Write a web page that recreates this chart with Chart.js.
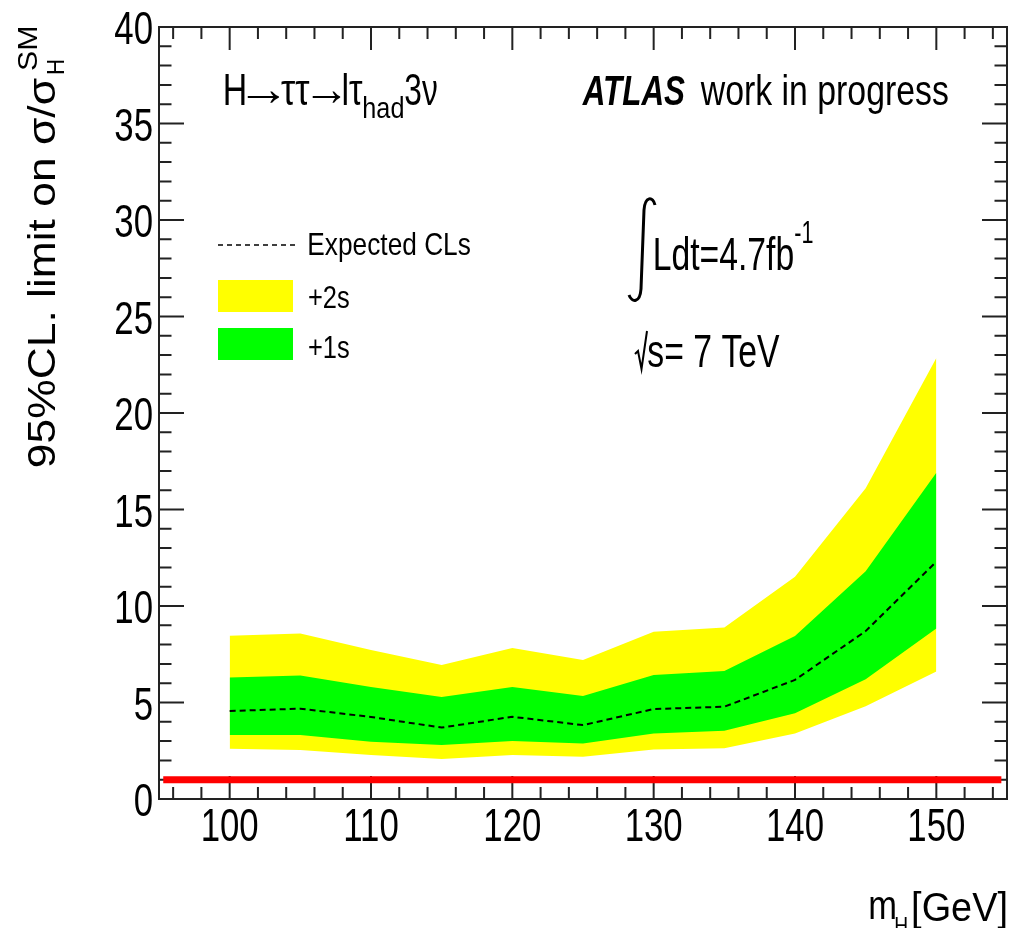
<!DOCTYPE html>
<html>
<head>
<meta charset="utf-8">
<title>H to tau tau expected limit</title>
<script src="https://cdn.jsdelivr.net/npm/chart.js@4.4.0/dist/chart.umd.min.js"></script>
<style>
  html, body { margin: 0; padding: 0; background: #fff; }
  canvas { display: block; }
</style>
</head>
<body>
<canvas id="limitChart" width="1011" height="928"></canvas>
<script>
// Higgs mass points and expected 95% CL limits (in units of the SM cross section)
const massPoints = [100, 105, 110, 115, 120, 125, 130, 135, 140, 145, 150];
const expectedCLs = [4.56, 4.68, 4.25, 3.70, 4.26, 3.83, 4.66, 4.78, 6.17, 8.70, 12.30];
const plus1sUp = [6.30, 6.40, 5.80, 5.28, 5.80, 5.34, 6.42, 6.63, 8.45, 11.80, 16.90];
const plus1sDown = [3.32, 3.32, 2.97, 2.80, 3.00, 2.88, 3.40, 3.54, 4.44, 6.20, 8.84];
const plus2sUp = [8.46, 8.57, 7.72, 6.94, 7.82, 7.20, 8.67, 8.88, 11.52, 16.10, 22.85];
const plus2sDown = [2.60, 2.54, 2.28, 2.07, 2.28, 2.19, 2.57, 2.63, 3.40, 4.80, 6.60];

// SM reference line at sigma/sigma_SM = 1
const smLineX = [95.3, 154.6];
const smLineY = [1, 1];

const xMajorTicks = [100, 110, 120, 130, 140, 150];
const yMajorTicks = [0, 5, 10, 15, 20, 25, 30, 35, 40];
const xMinorStep = 2;
const yMinorStep = 1;

const FONT = '"Liberation Sans", Arial, Helvetica, sans-serif';

const toPoints = (xs, ys) => xs.map((x, i) => ({ x, y: ys[i] }));

// text squeezed horizontally so its ink spans [left, right]
function fitText(ctx, str, left, right, baseline, size, style) {
    ctx.save();
    ctx.font = `${style || ''} ${size}px ${FONT}`;
    ctx.textAlign = 'left';
    ctx.textBaseline = 'alphabetic';
    const m = ctx.measureText(str);
    const ink = m.actualBoundingBoxLeft + m.actualBoundingBoxRight;
    ctx.translate(left, baseline);
    ctx.scale((right - left) / ink, 1);
    ctx.fillText(str, m.actualBoundingBoxLeft, 0);
    ctx.restore();
}

// same, but reading bottom-to-top
function fitTextUp(ctx, str, bottom, top, baselineX, size, style) {
    ctx.save();
    ctx.translate(baselineX, bottom);
    ctx.rotate(-Math.PI / 2);
    fitText(ctx, str, 0, bottom - top, 0, size, style);
    ctx.restore();
}

function narrowText(ctx, str, x, y, size, sx, align) {
    ctx.save();
    ctx.font = `${size}px ${FONT}`;
    ctx.textAlign = align || 'left';
    ctx.textBaseline = 'alphabetic';
    ctx.translate(x, y);
    ctx.scale(sx, 1);
    ctx.fillText(str, 0, 0);
    ctx.restore();
}

// ROOT-style frame: ticks pointing inwards on all four sides
const framePlugin = {
    id: 'frame',
    beforeDatasetsDraw(chart) {
        const { ctx, chartArea: a, scales: { x, y } } = chart;
        ctx.save();
        ctx.strokeStyle = '#222';
        ctx.lineWidth = 2;
        ctx.strokeRect(a.left, a.top, a.right - a.left, a.bottom - a.top);

        ctx.beginPath();
        for (let v = x.min + 1; v < x.max; v += xMinorStep) {
            const px = x.getPixelForValue(v);
            const len = xMajorTicks.includes(v) ? 23 : 12;
            ctx.moveTo(px, a.bottom); ctx.lineTo(px, a.bottom - len);
            ctx.moveTo(px, a.top); ctx.lineTo(px, a.top + len);
        }
        for (let v = y.min + yMinorStep; v < y.max; v += yMinorStep) {
            const py = y.getPixelForValue(v);
            const len = yMajorTicks.includes(v) ? 25 : 12.5;
            ctx.moveTo(a.left, py); ctx.lineTo(a.left + len, py);
            ctx.moveTo(a.right, py); ctx.lineTo(a.right - len, py);
        }
        const py40 = y.getPixelForValue(40);
        ctx.moveTo(a.left, py40); ctx.lineTo(a.left + 25, py40);
        ctx.moveTo(a.right, py40); ctx.lineTo(a.right - 25, py40);
        ctx.stroke();
        ctx.restore();
    },
    afterDraw(chart) {
        const { ctx, scales: { x, y } } = chart;
        ctx.save();
        ctx.fillStyle = '#000';

        // tick labels
        xMajorTicks.forEach(v => narrowText(ctx, String(v), x.getPixelForValue(v), 841, 47, 0.74, 'center'));
        yMajorTicks.forEach(v => narrowText(ctx, String(v), 153, y.getPixelForValue(v) + 17, 47, 0.74, 'right'));

        // axis titles
        fitTextUp(ctx, '95%CL. limit on σ/σ', 467, 78, 55, 39);
        fitTextUp(ctx, 'H', 74, 60, 64, 24);
        fitTextUp(ctx, 'SM', 70, 27, 37, 28);
        fitText(ctx, 'm', 870, 895, 919, 40);
        fitText(ctx, 'H', 895, 907, 934, 24);
        fitText(ctx, '[GeV]', 913, 1006, 921, 40);

        // channel label
        fitText(ctx, 'H', 225, 245, 105, 44);
        fitText(ctx, '→', 247, 280, 105, 48);
        fitText(ctx, 'ττ', 281, 310, 105, 44);
        fitText(ctx, '→', 312, 341, 105, 48);
        fitText(ctx, 'lτ', 343, 363, 105, 44);
        fitText(ctx, 'had', 364, 403, 118, 30);
        fitText(ctx, '3ν', 405, 437, 105, 44);

        fitText(ctx, 'ATLAS', 582, 685, 105, 42, 'italic bold');
        fitText(ctx, 'work in progress', 700, 948, 105, 42);

        // luminosity and energy
        ctx.strokeStyle = '#000';
        ctx.lineWidth = 3;
        ctx.beginPath();
        ctx.moveTo(655, 205);
        ctx.bezierCurveTo(653, 196, 645, 196, 644, 210);
        ctx.lineTo(641, 289);
        ctx.bezierCurveTo(640, 303, 632, 303, 629, 295);
        ctx.stroke();
        fitText(ctx, 'Ldt=4.7fb', 655, 793, 270, 46);
        fitText(ctx, '-1', 795, 813, 243, 32);

        ctx.lineWidth = 2;
        ctx.beginPath();
        ctx.moveTo(635, 354);
        ctx.lineTo(638, 351);
        ctx.lineTo(641.5, 369);
        ctx.lineTo(647, 331);
        ctx.stroke();
        fitText(ctx, 's= 7 TeV', 648, 780, 367, 47);

        // legend
        ctx.lineWidth = 1.5;
        ctx.setLineDash([5, 4]);
        ctx.beginPath();
        ctx.moveTo(218, 245);
        ctx.lineTo(297, 245);
        ctx.stroke();
        ctx.setLineDash([]);
        ctx.fillStyle = '#ffff00';
        ctx.fillRect(218, 280, 75, 32);
        ctx.fillStyle = '#00ff00';
        ctx.fillRect(218, 328, 75, 32);
        ctx.fillStyle = '#000';
        fitText(ctx, 'Expected CLs', 309, 470, 255, 32);
        narrowText(ctx, '+2s', 308, 308, 31, 0.82);
        narrowText(ctx, '+1s', 308, 358, 31, 0.82);
        ctx.restore();
    }
};

const ctx = document.getElementById('limitChart').getContext('2d');
const limitChart = new Chart(ctx, {
    type: 'line',
    data: {
        datasets: [{
            label: 'Expected CLs',
            data: toPoints(massPoints, expectedCLs),
            borderColor: '#000',
            borderWidth: 2,
            borderDash: [6, 4],
            fill: false,
            order: 1,
        }, {
            label: '+1s',
            data: toPoints(massPoints, plus1sUp),
            borderWidth: 0,
            backgroundColor: '#00ff00',
            fill: { target: 2 },
            order: 2,
        }, {
            label: '-1s',
            data: toPoints(massPoints, plus1sDown),
            borderWidth: 0,
            fill: false,
            order: 2,
        }, {
            label: '+2s',
            data: toPoints(massPoints, plus2sUp),
            borderWidth: 0,
            backgroundColor: '#ffff00',
            fill: { target: 4 },
            order: 3,
        }, {
            label: '-2s',
            data: toPoints(massPoints, plus2sDown),
            borderWidth: 0,
            fill: false,
            order: 3,
        }, {
            label: 'SM',
            data: toPoints(smLineX, smLineY),
            borderColor: '#ff0000',
            borderWidth: 7,
            borderCapStyle: 'butt',
            fill: false,
            order: 0,
        }],
    },
    options: {
        responsive: false,
        animation: false,
        layout: { padding: { left: 159, right: 4, top: 27, bottom: 129 } },
        elements: {
            point: { radius: 0, hoverRadius: 0 },
            line: { tension: 0 },
        },
        plugins: {
            legend: { display: false },
            tooltip: { enabled: false },
        },
        scales: {
            x: { type: 'linear', min: 95, max: 155, display: false },
            y: { type: 'linear', min: 0, max: 40, display: false },
        },
    },
    plugins: [framePlugin],
});
</script>
</body>
</html>
